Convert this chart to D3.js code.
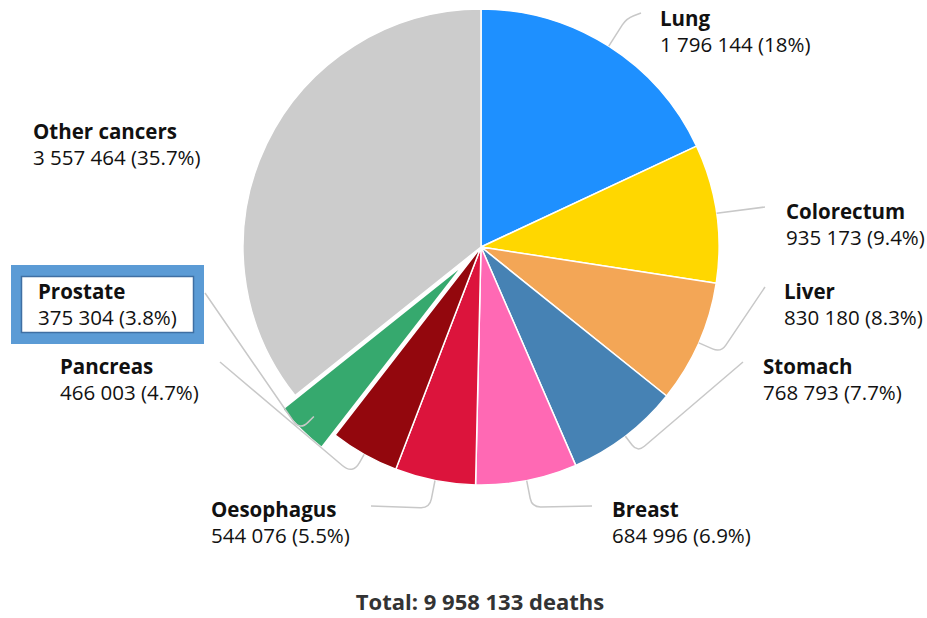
<!DOCTYPE html>
<html lang="en">
<head>
	<meta charset="UTF-8">
	<title>Cancer deaths</title>
	<style>
		body { margin: 0; background: #fff; }
		text { font-family: "Open Sans", "Noto Sans", sans-serif; }
	</style>
</head>
<body>
	<script src="https://cdn.jsdelivr.net/npm/d3@7"></script>

	<script type="text/javascript">

		// data
		var causes = ["Lung", "Colorectum", "Liver", "Stomach", "Breast", "Oesophagus", "Pancreas", "Prostate", "Other cancers"];
		var deaths = [1796144, 935173, 830180, 768793, 684996, 544076, 466003, 375304, 3557464];
		var colors = ["#1e90ff", "#ffd700", "#f3a656", "#4682b4", "#ff69b4", "#dc143c", "#93070d", "#36a96e", "#cccccc"];
		var highlighted = "Prostate";

		var width = 927;
		var height = 618;

		// layout: label anchor (x, baseline) and where the leader line ends
		var labelPos = [[660, 26], [786, 219], [784, 299], [763, 374], [612, 517], [211, 517], [60, 374], [38, 299], [33, 139]];
		var leaderEnd = [[641, 13], [765, 207], [765, 287], [743, 362], [592, 506], [371, 506], [220, 362], [205, 293], null];
		var leaderExt = [33, 0, 24, 20, 27, 28, 23, 20, 0];

		var cx = 481, cy = 247, radius = 238, explode = 19;

		var total = d3.sum(deaths);
		var loc = d3.formatLocale({ decimal: ".", thousands: " ", grouping: [3], currency: ["", ""] });
		var fmtNum = loc.format(",d");
		var fmtPct = d3.format(".1~f");

		var svg = d3.select("body")
					.append("svg")
					.attr("width", width)
					.attr("height", height);

		var pie = d3.pie().sort(null).value(function(d) { return d; });
		var arcs = pie(deaths);
		var arc = d3.arc().innerRadius(0).outerRadius(radius);

		var g = svg.append("g").attr("transform", "translate(" + cx + "," + cy + ")");

		// highlight box behind the label
		svg.append("rect")
			.attr("x", 11).attr("y", 265)
			.attr("width", 193).attr("height", 79)
			.attr("fill", "#5b9bd5");
		svg.append("rect")
			.attr("x", 21.5).attr("y", 276.5)
			.attr("width", 172).attr("height", 56)
			.attr("fill", "#fff")
			.attr("stroke", "#3f6fa3")
			.attr("stroke-width", 1.5);

		function offsetOf(d, i) {
			if (causes[i] !== highlighted) return [0, 0];
			var a = (d.startAngle + d.endAngle) / 2;
			return [Math.sin(a) * explode, -Math.cos(a) * explode];
		}

		// slices
		g.selectAll("path.slice")
			.data(arcs)
			.enter()
			.append("path")
			.attr("class", "slice")
			.attr("d", arc)
			.attr("transform", function(d, i) {
				var o = offsetOf(d, i);
				return "translate(" + o[0] + "," + o[1] + ")";
			})
			.attr("fill", function(d, i) { return colors[i]; })
			.attr("stroke", "#fff")
			.attr("stroke-width", function(d, i) { return causes[i] === highlighted ? 3 : 1.5; })
			.attr("stroke-linejoin", "round");

		// leader lines with a rounded elbow
		function leaderPath(p0, p1, p2, r) {
			var p = d3.path();
			p.moveTo(p0[0], p0[1]);
			var l1 = Math.hypot(p0[0] - p1[0], p0[1] - p1[1]);
			var l2 = Math.hypot(p2[0] - p1[0], p2[1] - p1[1]);
			if (l1 < 1) {
				p.lineTo(p2[0], p2[1]);
				return p.toString();
			}
			var rr = Math.min(r, l1 * 0.6, l2 * 0.5);
			var a = [p1[0] + (p0[0] - p1[0]) / l1 * rr, p1[1] + (p0[1] - p1[1]) / l1 * rr];
			var b = [p1[0] + (p2[0] - p1[0]) / l2 * rr, p1[1] + (p2[1] - p1[1]) / l2 * rr];
			p.lineTo(a[0], a[1]);
			p.quadraticCurveTo(p1[0], p1[1], b[0], b[1]);
			p.lineTo(p2[0], p2[1]);
			return p.toString();
		}

		svg.selectAll("path.leader")
			.data(arcs.filter(function(d, i) { return leaderEnd[i]; }))
			.enter()
			.append("path")
			.attr("class", "leader")
			.attr("fill", "none")
			.attr("stroke", "#c8c8c8")
			.attr("stroke-width", 1.5)
			.attr("d", function(d) {
				var i = d.index;
				var a = (d.startAngle + d.endAngle) / 2;
				var s = Math.sin(a), c = -Math.cos(a);
				var p0 = [cx + s * radius, cy + c * radius];
				var p1 = [cx + s * (radius + leaderExt[i]), cy + c * (radius + leaderExt[i])];
				var r = (i === 6 || i === 7) ? 22 : 9;
				return leaderPath(p0, p1, leaderEnd[i], r);
			});

		// labels
		var labels = svg.selectAll("g.label")
			.data(arcs)
			.enter()
			.append("g")
			.attr("class", "label")
			.attr("transform", function(d, i) {
				return "translate(" + labelPos[i][0] + "," + labelPos[i][1] + ")";
			});

		labels.append("text")
			.attr("font-size", "20.5px")
			.attr("font-weight", "bold")
			.attr("fill", "#111")
			.text(function(d, i) { return causes[i]; });

		labels.append("text")
			.attr("y", 26)
			.attr("font-size", "20.5px")
			.attr("fill", "#111")
			.text(function(d, i) {
				return fmtNum(deaths[i]) + " (" + fmtPct(deaths[i] / total * 100) + "%)";
			});

		// total
		svg.append("text")
			.attr("x", 480)
			.attr("y", 610)
			.attr("text-anchor", "middle")
			.attr("font-size", "22px")
			.attr("font-weight", "bold")
			.attr("fill", "#333")
			.text("Total: " + fmtNum(total) + " deaths");

	</script>
</body>
</html>
